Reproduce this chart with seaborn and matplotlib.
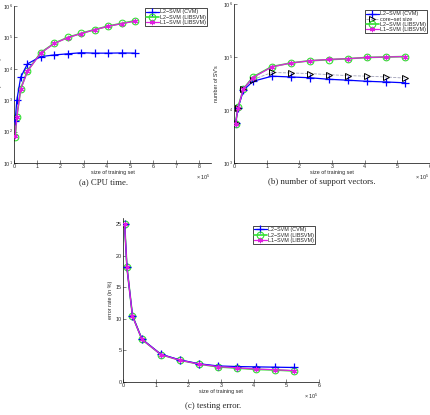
import matplotlib
matplotlib.use("Agg")
import matplotlib.pyplot as plt
import seaborn as sns
import numpy as np
import pandas as pd

sns.set_style("white")
plt.rcParams['font.family'] = ['Liberation Sans', 'DejaVu Sans']
plt.rcParams['mathtext.default'] = 'regular'

# size of training set (x 10^5)
sizes = [0.05, 0.12, 0.29, 0.58, 1.16, 1.74, 2.32, 2.90, 3.49, 4.07, 4.65, 5.23]

# (a) CPU time (seconds)
cpu_cvm = [210, 980, 5400, 14400, 24500, 27600, 30000, 32500, 31500, 31500, 32000, 31500]
cpu_l2_lib = [66, 300, 2350, 8600, 33000, 65000, 100000, 135000, 178000, 230000, 280000, 340000]
cpu_l1_lib = [70, 290, 2200, 8300, 32000, 64000, 98000, 133000, 176000, 226000, 275000, 330000]

# (b) number of support vectors
sv_cvm = [5700, 10700, 23700, 34800, 43400, 42000, 40600, 38000, 36500, 34800, 33800, 32600]
sv_core = [5700, 10900, 25000, 37500, 51000, 50000, 48700, 46500, 44500, 43500, 42000, 40000]
sv_l2_lib = [5500, 11200, 25000, 42000, 66000, 77000, 85000, 89000, 93000, 98000, 100000, 102000]
sv_l1_lib = [5500, 11000, 25000, 41000, 65000, 77000, 85000, 90000, 93000, 98000, 100000, 102000]

# (c) testing error (%)
err_cvm = [25, 18.2, 10.5, 6.8, 4.4, 3.5, 2.9, 2.55, 2.45, 2.4, 2.35, 2.3]
err_l2_lib = [25, 18.2, 10.5, 6.75, 4.35, 3.45, 2.85, 2.4, 2.2, 2.0, 1.9, 1.75]
err_l1_lib = [25, 18.2, 10.45, 6.75, 4.35, 3.45, 2.85, 2.45, 2.25, 2.05, 1.95, 1.8]

BLUE = '#0000ff'
GREEN = '#33e033'
MAGENTA = '#e020e0'
FS = 3.9
W, H = 431.0, 415.0

fig = plt.figure(figsize=(4.31, 4.15), dpi=100)


def box(l, r, t, b):
    return [l / W, (H - b) / H, (r - l) / W, (b - t) / H]


def draw(ax, ys, labels, styles):
    for y, lab, st in zip(ys, labels, styles):
        sns.lineplot(x=sizes, y=y, ax=ax, label=lab, sort=False, estimator=None, **st)


# seaborn gives markers a white edge unless mec is set
cvm_style = dict(color=BLUE, lw=0.9, marker='+', markersize=5.5, mec=BLUE, mew=0.9, zorder=3)
l2_style = dict(color=GREEN, lw=1.2, marker='o', markersize=4.8, mfc='none', mec=GREEN, mew=0.8, zorder=2)
l1_style = dict(color=MAGENTA, lw=0.9, marker=(6, 2, 0), markersize=3.8, mec=MAGENTA, mew=0.8, zorder=4)
core_style = dict(color='#a0a0b8', lw=0.6, ls='--', marker='>', markersize=4.8, mfc='none', mec='black', mew=0.7, zorder=3)


def style_axes(ax, ylabel, ylab_x, xtl):
    sns.despine(ax=ax)
    for s in ['left', 'bottom']:
        ax.spines[s].set_linewidth(0.5)
        ax.spines[s].set_color('black')
    ax.tick_params(axis='both', which='major', direction='in', length=2, width=0.4,
                   labelsize=FS, pad=1, left=True, bottom=True)
    ax.tick_params(axis='both', which='minor', left=False, bottom=False)
    ax.set_xticks(xtl)
    ax.set_xlabel('size of training set', fontsize=FS, labelpad=0.5)
    ax.set_ylabel(ylabel, fontsize=FS)
    ax.yaxis.set_label_coords(ylab_x, 0.5)
    ax.text(1.0, -0.09, r'$\times$ 10$^5$', transform=ax.transAxes, fontsize=FS,
            ha='right', va='center')


def legend(ax, anchor):
    lg = ax.legend(loc='upper right', bbox_to_anchor=anchor, fontsize=FS, numpoints=1,
                   handlelength=2.4, handletextpad=0.2, labelspacing=0.05, borderpad=0.2,
                   borderaxespad=0, fancybox=False, framealpha=1, edgecolor='black')
    lg.get_frame().set_linewidth(0.5)


# (a) CPU time
ax1 = fig.add_axes(box(14, 211, 6, 163))
draw(ax1, [cpu_cvm, cpu_l2_lib, cpu_l1_lib],
     ['L2\u2212SVM (CVM)', 'L2\u2212SVM (LIBSVM)', 'L1\u2212SVM (LIBSVM)'],
     [cvm_style, l2_style, l1_style])
ax1.set_yscale('log')
ax1.set_ylim(10, 1e6)
ax1.set_xlim(0, 8.5)
style_axes(ax1, 'CPU time (in seconds)', -0.06, range(0, 9))
legend(ax1, (0.98, 0.985))

# (b) number of support vectors
ax2 = fig.add_axes(box(234, 430, 4, 163))
draw(ax2, [sv_cvm, sv_core, sv_l2_lib, sv_l1_lib],
     ['L2\u2212SVM (CVM)', 'core\u2212set size', 'L2\u2212SVM (LIBSVM)', 'L1\u2212SVM (LIBSVM)'],
     [cvm_style, core_style, l2_style, l1_style])
ax2.set_yscale('log')
ax2.set_ylim(1e3, 1e6)
ax2.set_xlim(0, 6)
style_axes(ax2, "number of SV's", -0.077, range(0, 7))
legend(ax2, (0.985, 0.96))

# (c) testing error
ax3 = fig.add_axes(box(123, 319, 218, 382))
draw(ax3, [err_cvm, err_l2_lib, err_l1_lib],
     ['L2\u2212SVM (CVM)', 'L2\u2212SVM (LIBSVM)', 'L1\u2212SVM (LIBSVM)'],
     [cvm_style, l2_style, l1_style])
ax3.set_ylim(0, 26)
ax3.set_xlim(0, 6)
ax3.set_yticks([0, 5, 10, 15, 20, 25])
style_axes(ax3, 'error rate (in %)', -0.05, range(0, 7))
legend(ax3, (0.98, 0.95))

cap = dict(fontsize=6.3, family='Liberation Serif', ha='center', va='center')
fig.text(104 / W, 1 - 182 / H, '(a) CPU time.', **cap)
fig.text(322 / W, 1 - 182 / H, '(b) number of support vectors.', **cap)
fig.text(213 / W, 1 - 406 / H, '(c) testing error.', **cap)

fig.savefig('out.png', dpi=100)
